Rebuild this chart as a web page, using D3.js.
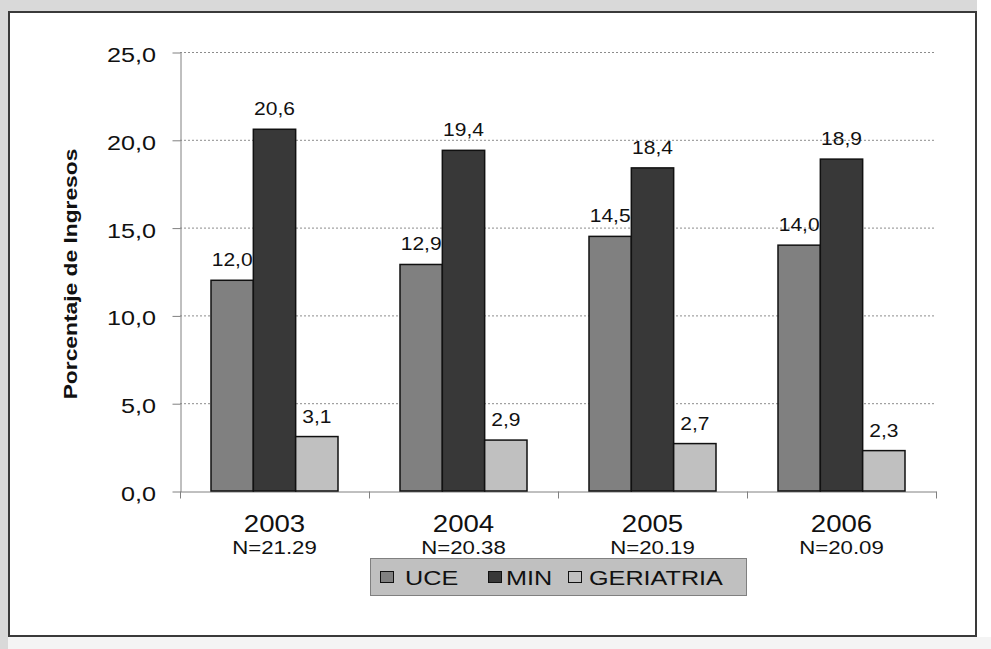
<!DOCTYPE html>
<html>
<head>
<meta charset="utf-8">
<script src="https://cdn.jsdelivr.net/npm/d3@7"></script>
<style>
  html, body { margin: 0; padding: 0; background: #ffffff; }
  svg { display: block; }
</style>
</head>
<body>
<svg id="chart" width="991" height="649"></svg>
<script>
// Años y tamaño de muestra de cada grupo
const years = ["2003", "2004", "2005", "2006"];
const sampleN = ["N=21.29", "N=20.38", "N=20.19", "N=20.09"];

// Series (% de ingresos)
const seriesNames = ["UCE", "MIN", "GERIATRIA"];
const uceValues = [12.0, 12.9, 14.5, 14.0];
const minValues = [20.6, 19.4, 18.4, 18.9];
const geriatriaValues = [3.1, 2.9, 2.7, 2.3];
const seriesColors = ["#808080", "#383838", "#c0c0c0"];

const yTicks = [0, 5, 10, 15, 20, 25];

const FONT = "'Liberation Sans', Arial, Helvetica, sans-serif";
const SX = 1.2; // texto ligeramente ensanchado

const svg = d3.select("#chart");
const W = 991, H = 649;

// Texto ensanchado horizontalmente, anclado en (x, y)
function wideText(parent, x, y, str, size, anchor, opts = {}) {
  const g = parent.append("g").attr("transform", `translate(${x},${y}) scale(${SX},1)`);
  const t = g.append("text").attr("x", 0).attr("y", 0)
    .attr("text-anchor", anchor).attr("font-size", size)
    .attr("font-family", FONT).attr("fill", "#111").text(str);
  if (opts.bold) t.attr("font-weight", "bold");
  return g;
}

// Fondo y marco
svg.append("rect").attr("x", 0).attr("y", 0).attr("width", W).attr("height", H).attr("fill", "#d9d9d9");
svg.append("rect").attr("x", 977).attr("y", 0).attr("width", 14).attr("height", H).attr("fill", "#ffffff");
svg.append("rect").attr("x", 8).attr("y", 637).attr("width", W - 8).attr("height", 12).attr("fill", "#f4f4f4");
svg.append("rect").attr("x", 9).attr("y", 12).attr("width", 967).attr("height", 624)
  .attr("fill", "#ffffff").attr("stroke", "#3a3a3a").attr("stroke-width", 2);

const x0 = d3.scaleBand().domain(years).range([180, 936]).paddingInner(0).paddingOuter(0);
const x1 = d3.scaleBand().domain(seriesNames).range([31, x0.bandwidth() - 31]).padding(0);
const y = d3.scaleLinear().domain([0, 25]).range([491, 52]);

const fmt = v => d3.format(".1f")(v).replace(".", ",");

// Líneas de cuadrícula punteadas
svg.append("g").selectAll("line").data(yTicks.filter(t => t > 0)).join("line")
  .attr("x1", 180).attr("x2", 936)
  .attr("y1", d => y(d) + 0.5).attr("y2", d => y(d) + 0.5)
  .attr("stroke", "#8c8c8c").attr("stroke-width", 1).attr("stroke-dasharray", "2,2");

// Eje Y (línea y marcas)
const yAxis = d3.axisLeft(y).tickValues(yTicks).tickFormat("").tickSize(8).tickSizeOuter(0);
const gy = svg.append("g").attr("transform", "translate(180.5,0.5)").call(yAxis);
gy.select(".domain").attr("stroke", "#808080");
gy.selectAll(".tick line").attr("stroke", "#808080");
gy.selectAll(".tick text").remove();

// Etiquetas del eje Y
const gyl = svg.append("g");
yTicks.forEach(t => wideText(gyl, 156, y(t) + 10, fmt(t), 21, "end"));

// Eje X
const xAxis = d3.axisBottom(x0).tickValues([]).tickSizeOuter(0);
const gx = svg.append("g").attr("transform", "translate(0,491.5)").call(xAxis);
gx.select(".domain").attr("stroke", "#808080");
const xTickPos = years.map(d => x0(d)).concat([x0.range()[1]]);
gx.selectAll("line.sep").data(xTickPos).join("line").attr("class", "sep")
  .attr("x1", d => Math.round(d) + 0.5).attr("x2", d => Math.round(d) + 0.5)
  .attr("y1", 0).attr("y2", 7).attr("stroke", "#808080");

// Barras
const data = years.map((yr, i) => ({
  year: yr,
  values: [uceValues[i], minValues[i], geriatriaValues[i]]
}));

const groups = svg.append("g").selectAll("g").data(data).join("g")
  .attr("transform", d => `translate(${x0(d.year)},0)`);

groups.selectAll("rect").data(d => d.values.map((v, j) => ({ v, s: seriesNames[j], j }))).join("rect")
  .attr("x", d => x1(d.s))
  .attr("y", d => y(d.v))
  .attr("width", x1.bandwidth())
  .attr("height", d => y(0) - y(d.v))
  .attr("fill", d => seriesColors[d.j])
  .attr("stroke", "#111").attr("stroke-width", 1.5);

// Valores sobre las barras
groups.each(function (d) {
  const g = d3.select(this);
  d.values.forEach((v, j) => {
    wideText(g, x1(seriesNames[j]) + x1.bandwidth() / 2, y(v) - 14, fmt(v), 17.5, "middle");
  });
});

// Etiquetas de categoría
const gcat = svg.append("g");
years.forEach((yr, i) => {
  const cx = x0(yr) + x0.bandwidth() / 2;
  wideText(gcat, cx, 532, yr, 23, "middle");
  wideText(gcat, cx, 554, sampleN[i], 18.5, "middle");
});

// Título del eje Y
const gt = svg.append("g").attr("transform", "translate(77,274) rotate(-90)");
wideText(gt, 0, 0, "Porcentaje de Ingresos", 19, "middle", { bold: true });

// Leyenda
const lg = svg.append("g");
lg.append("rect").attr("x", 370.5).attr("y", 558.5).attr("width", 376).attr("height", 37)
  .attr("fill", "#c0c0c0").attr("stroke", "#808080").attr("stroke-width", 1);
const legendSq = [380.5, 488.5, 568.5];
const legendTx = [405, 506, 589];
seriesNames.forEach((s, i) => {
  lg.append("rect").attr("x", legendSq[i]).attr("y", 571.5).attr("width", 13).attr("height", 11)
    .attr("fill", seriesColors[i]).attr("stroke", "#111").attr("stroke-width", 1);
  wideText(lg, legendTx[i], 585, s, 21, "start");
});
</script>
</body>
</html>
